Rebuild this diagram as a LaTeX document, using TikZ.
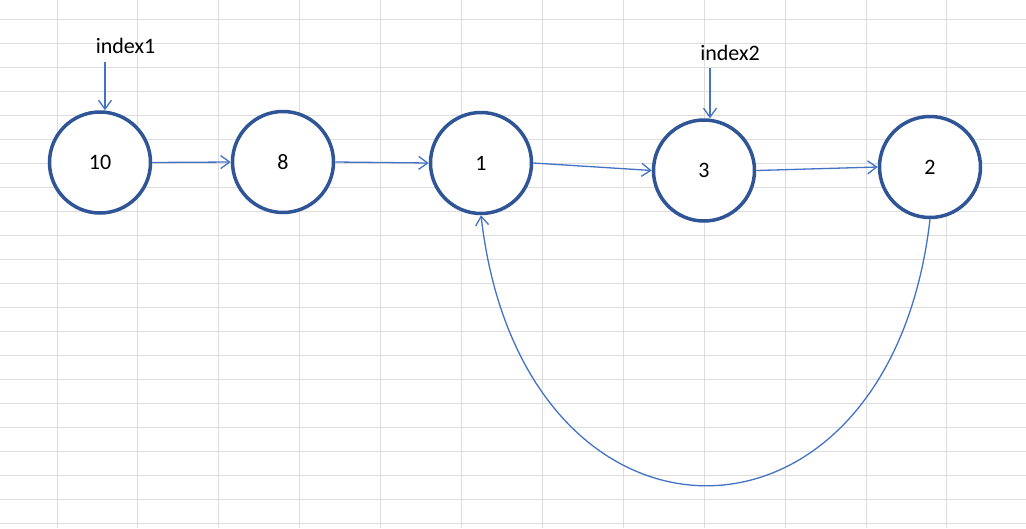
\documentclass[tikz,border=0pt]{standalone}
\usepackage{fontspec}
\setmainfont{Carlito}
\usetikzlibrary{arrows.meta}
\definecolor{gridgray}{HTML}{DDDDDD}
\definecolor{ringblue}{HTML}{2F5597}
\definecolor{linkblue}{HTML}{4472C4}
\tikzset{
  cell/.style={draw=gridgray, line width=1pt},
  listnode/.style={circle, draw=ringblue, line width=3.5pt, fill=white,
    minimum size=101pt, inner sep=0pt, font=\fontsize{22}{25}\selectfont},
  pointer/.style={font=\fontsize{22}{25}\selectfont, inner sep=0pt, anchor=base},
  link/.style={draw=linkblue, line width=1.3pt,
    -{Straight Barb[length=9pt,width=13pt,line width=1.3pt]}}
}
\begin{document}
\begin{tikzpicture}[x=1pt,y=-1pt]
  % sheet background and bounds
  \fill[white] (0,0) rectangle (1026,528);
  \useasboundingbox (0,0) rectangle (1026,528);
  % spreadsheet cell grid
  \foreach \k in {0,...,11} {
    \draw[cell] ({57+80.9*\k},0) -- ({57+80.9*\k},528);
  }
  \foreach \k in {0,...,21} {
    \draw[cell] (0,{19.3+24*\k}) -- (1026,{19.3+24*\k});
  }
  % list nodes
  \node[listnode] (n10) at (100,162.5) {10};
  \node[listnode] (n8)  at (283,162)   {8};
  \node[listnode] (n1)  at (481,163)   {1};
  \node[listnode] (n3)  at (704,170.5) {3};
  \node[listnode] (n2)  at (930,167)   {2};
  % pointer labels
  \node[pointer] (idx1) at (125.5,53.5) {index1};
  \node[pointer] (idx2) at (730,60)   {index2};
  \coordinate (p1) at (105,62);
  \coordinate (p2) at (710,68);
  \draw[link] (p1) -- (p1 |- n10.north);
  \draw[link] (p2) -- (p2 |- n3.north);
  % next links
  \draw[link] (n10.east) -- (n8.west);
  \draw[link] (n8.east) -- (n1.west);
  \draw[link] (n1.east) -- (n3.west);
  \draw[link] (n3.east) -- (n2.west);
  % cycle back from 2 to 1
  \draw[link] (n2.south) .. controls (889,576) and (522,574) .. (n1.south);
\end{tikzpicture}
\end{document}
